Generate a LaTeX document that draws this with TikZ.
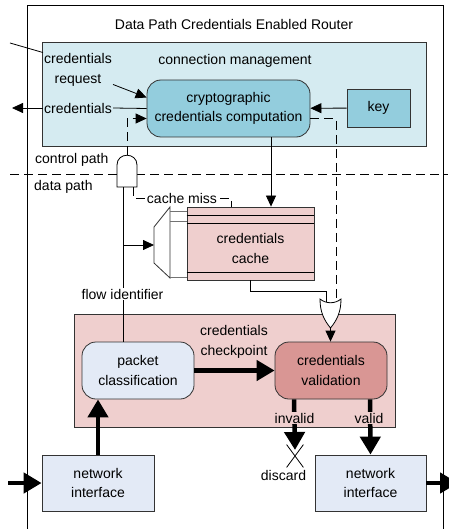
\documentclass[tikz,border=0pt]{standalone}
\usepackage{fontspec}
\setmainfont{Liberation Sans}
\usetikzlibrary{arrows.meta,shapes.misc}
\definecolor{ConnFill}{HTML}{D5EBF1}
\definecolor{CryptoFill}{HTML}{93CDDD}
\definecolor{PinkFill}{HTML}{EFCFCE}
\definecolor{ValFill}{HTML}{D99694}
\definecolor{BlueFill}{HTML}{E3EAF6}
\begin{document}
\begin{tikzpicture}[x=1pt,y=-1pt,font=\fontsize{14}{19.5}\selectfont]
  \tikzset{
    Box/.style={draw=black!80,line width=0.8pt,align=center,inner sep=0pt},
    RoundBox/.style={Box,rounded corners=14pt},
    Txt/.style={align=center,inner sep=1pt},
    Wire/.style={line width=0.8pt},
    DashWire/.style={Wire,dash pattern=on 9pt off 5pt},
    Arrow/.style={Wire,-{Triangle[length=11pt,width=10pt]}},
    DashArrow/.style={Arrow,dash pattern=on 9pt off 5pt},
    BigArrow/.style={line width=4.5pt,-{Triangle[length=18pt,width=20pt]}},
  }
  \useasboundingbox (0,0) rectangle (448,529);
  % router frame
  \draw[Wire] (27,529) -- (27,5) -- (443,5) -- (443,529);
  \node[Txt] (title) at (234,24) {Data Path Credentials Enabled Router};
  % control path
  \node[Box,fill=ConnFill,minimum width=384pt,minimum height=104pt] (conn) at (234,94) {};
  \node[Txt] (connlabel) at (235,61) {connection management};
  \node[RoundBox,fill=CryptoFill,minimum width=163pt,minimum height=57pt] (crypto) at (228.5,108.5) {cryptographic\\credentials computation};
  \node[Box,fill=CryptoFill,minimum width=63pt,minimum height=38pt] (key) at (378.5,108) {key};
  \node[Txt] (credreq) at (78,70) {credentials\\request};
  \node[Txt] (cred) at (78,108) {credentials};
  \coordinate (reqin) at (10,43);
  \coordinate (credout) at (12,108);
  \draw[Wire] (reqin) -- (credreq.north west);
  \draw[Arrow] ([yshift=3pt]credreq.south east) -- ([yshift=11pt]crypto.west);
  \draw[Wire] (crypto.west) -- (cred.east);
  \draw[Arrow] (cred.west) -- (credout);
  \draw[Arrow] (key) -- (crypto);
  \draw[DashWire] (10,174) -- (448,174);
  \node[Txt,anchor=west] (ctrlpath) at (34,160) {control path};
  \node[Txt,anchor=west] (datapath) at (33,187) {data path};
  % data path
  \node[Box,fill=PinkFill,minimum width=127pt,minimum height=73pt,label={[Txt,yshift=-5pt]center:{credentials\\cache}}] (cache) at (250.5,243.5) {};
  \foreach \d in {9,17}
    \draw[Wire] ([yshift=-\d pt]cache.north west) -- ([yshift=-\d pt]cache.north east);
  \draw[Wire] ([yshift=8pt]cache.south west) -- ([yshift=8pt]cache.south east);
  \draw[Wire,draw=black!80,fill=white] (154,227) -- (170,207) -- (170,278) -- (154,263) -- cycle;
  \coordinate (muxin) at (154,245);
  \foreach \y in {211,221,277}
    \draw[Wire,black!55] (170,\y) -- (cache.west |- 170,\y);
  \node[Box,fill=PinkFill,minimum width=321pt,minimum height=113pt] (chk) at (234.5,370.5) {};
  \node[Txt] (chklabel) at (234,342) {credentials\\checkpoint};
  \node[RoundBox,fill=BlueFill,minimum width=112pt,minimum height=57pt] (pclass) at (138,370.5) {packet\\classification};
  \node[RoundBox,fill=ValFill,minimum width=112pt,minimum height=57pt] (cval) at (331,370.5) {credentials\\validation};
  \node[Box,fill=BlueFill,minimum width=112pt,minimum height=56pt] (nifin) at (98,483) {network\\interface};
  \node[Box,fill=BlueFill,minimum width=111pt,minimum height=56pt] (nifout) at (370.5,483) {network\\interface};
  \node[cross out,draw,line width=0.8pt,minimum width=16pt,minimum height=22pt,inner sep=0pt] (drop) at (295,456) {};
  \node[Txt] (discard) at (283.5,475) {discard};
  \coordinate (andout) at (127,155);
  \coordinate (andin1) at (123,187);
  \coordinate (andin2) at (133,187);
  \coordinate (orin1) at (326,303);
  \coordinate (orin2) at (336,303);
  \coordinate (orout) at (330.5,328);
  \coordinate (pktin) at (8,483);
  \coordinate (pktout) at (458,483);
  % wires
  \draw[DashArrow] (andout) |- ([yshift=-10pt]crypto.west);
  \draw[DashWire] ([yshift=-10pt]crypto.east) -| (orin2);
  \draw[Arrow] ([xshift=42.5pt]crypto.south) -- ([xshift=42.5pt]crypto.south |- cache.north);
  \draw[DashWire] (andin2) -- ++(0,11) -| node[Txt,pos=0.25,fill=white] (miss) {cache miss} ([xshift=-19.5pt]cache.north);
  \draw[Wire] (andin1) -- (andin1 |- pclass.north);
  \draw[Arrow] (andin1 |- muxin) -- (muxin);
  \node[Txt,fill=white] (flowid) at (122.5,294) {flow identifier};
  \draw[Wire] (cache.south) -- ++(0,11) -| (orin1);
  \draw[Arrow] (orout) -- (orout |- cval.north);
  % gates
  \draw[Wire,fill=white] (117,187) -- (117,165) .. controls (117,152) and (137,152) .. (137,165) -- (137,187) -- cycle;
  \draw[Wire,fill=white] (320,299) .. controls (326,304) and (335,304) .. (341,299) .. controls (341,312) and (337,320) .. (330.5,328) .. controls (324,320) and (320,312) .. (320,299) -- cycle;
  % packets
  \draw[BigArrow] (pclass) -- (cval);
  \draw[BigArrow] ([xshift=-37pt]cval.south) -- ([yshift=6pt]drop.center);
  \draw[BigArrow] ([xshift=39pt]cval.south) -- (nifout.north);
  \node[Txt,fill=PinkFill] (invalid) at (294.5,418) {invalid};
  \node[Txt,fill=PinkFill] (valid) at (369,418) {valid};
  \draw[BigArrow] (pktin) -- (nifin);
  \draw[BigArrow] (nifout) -- (pktout);
  \draw[BigArrow] (nifin) -- (nifin |- pclass.south);
\end{tikzpicture}
\end{document}
